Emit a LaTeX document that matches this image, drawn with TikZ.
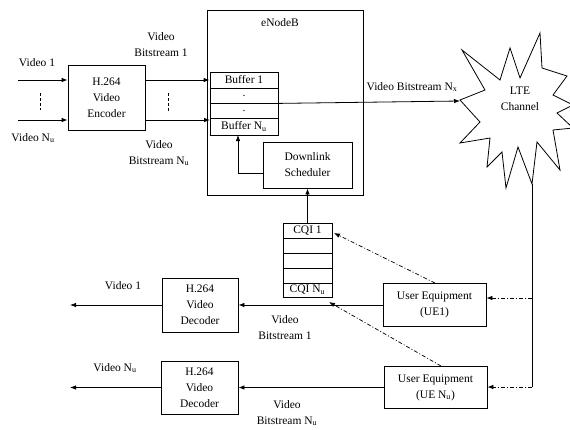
\documentclass[tikz,border=0pt]{standalone}
\usepackage{fontspec}
\setmainfont{Liberation Serif}
\usetikzlibrary{arrows.meta}
\begin{document}
\begin{tikzpicture}[x=1pt,y=-1pt,
  font=\fontsize{11.5}{16}\selectfont,
  box/.style={draw, line width=0.8pt, inner sep=0pt, align=center},
  arr/.style={-{Latex[length=6pt,width=4.5pt]}, line width=0.8pt},
  plain/.style={line width=0.8pt},
  dd/.style={dash pattern=on 4pt off 2pt on 1pt off 2pt, line width=0.7pt},
  dots/.style={dash pattern=on 3pt off 2pt, line width=0.7pt},
  lbl/.style={inner sep=0pt, align=center}]
\useasboundingbox (0,0) rectangle (570,429);

% ---------- encoder side ----------
\node[box, minimum width=77pt, minimum height=65pt] (enc) at (106.5,97.5) {H.264\\Video\\Encoder};
\coordinate (vin1) at (18,80);
\coordinate (vinN) at (18,120);
\draw[arr] (vin1) -- (enc.west |- vin1);
\draw[arr] (vinN) -- (enc.west |- vinN);
\node[lbl] (lv1) at (37,63) {Video 1};
\node[lbl] (lvN) at (33,138) {Video N\textsubscript{u}};
\coordinate (d1a) at (40,93); \coordinate (d1b) at (40,110);
\draw[dots] (d1a) -- (d1b);

% ---------- eNodeB ----------
\node[box, minimum width=156pt, minimum height=185pt] (enb) at (285,102.5) {};
\node[lbl] (enbl) at (280,23) {eNodeB};
\node[box, minimum width=68pt, minimum height=16pt] (buf1) at (244,80) {Buffer 1};
\node[box, minimum width=68pt, minimum height=15pt] (buf2) at (244,95.5) {.};
\node[box, minimum width=68pt, minimum height=15pt] (buf3) at (244,110.5) {.};
\node[box, minimum width=68pt, minimum height=17pt] (bufN) at (244,126.5) {Buffer N\textsubscript{u}};
\node[box, minimum width=89pt, minimum height=46pt] (sched) at (307.5,165) {Downlink\\Scheduler};

\coordinate (binN) at (210,120);
\draw[arr] (enc.east |- buf1.west) -- (buf1.west);
\draw[arr] (enc.east |- binN) -- (binN);
\node[lbl] (lb1) at (161,45) {Video\\Bitstream 1};
\node[lbl] (lbN) at (159,153) {Video\\Bitstream N\textsubscript{u}};
\coordinate (d2a) at (168,93); \coordinate (d2b) at (168,111);
\draw[dots] (d2a) -- (d2b);

\coordinate (s1) at (263,173);
\coordinate (s2) at (238,135);
\draw[arr] (s1) -| (s2);

% ---------- LTE channel ----------
\draw[line width=0.8pt, fill=white] (460,100) -- (485,90) -- (462,50) -- (500,80) -- (510,48)
  -- (520,78) -- (540,33) -- (542,68) -- (567,76) -- (553,95) -- (573,105) -- (557,113)
  -- (573,128) -- (553,130) -- (560,170) -- (537,142) -- (532,184) -- (518,147)
  -- (506,188) -- (502,152) -- (487,167) -- (490,138) -- (460,143) -- (480,122) -- cycle;
\node[lbl] (lte) at (520,99) {LTE\\Channel};
\coordinate (ltein) at (460,101);
\draw[arr] (buf2.south east) -- (ltein);
\node[lbl] (lnx) at (412,87) {Video Bitstream N\textsubscript{x}};

% ---------- CQI ----------
\node[box, minimum width=49pt, minimum height=15pt] (cqi1) at (307.5,230.5) {CQI 1};
\node[box, minimum width=49pt, minimum height=15pt] (cqi2) at (307.5,245.5) {};
\node[box, minimum width=49pt, minimum height=15pt] (cqi3) at (307.5,260.5) {};
\node[box, minimum width=49pt, minimum height=15pt] (cqi4) at (307.5,275.5) {};
\node[box, minimum width=49pt, minimum height=14pt] (cqiN) at (307.5,290) {CQI N\textsubscript{u}};
\draw[arr] (cqi1.north) -- (sched.south);

% ---------- user equipment ----------
\node[box, minimum width=103pt, minimum height=43pt] (ue1) at (434.5,304.5) {User Equipment\\(UE1)};
\node[box, minimum width=103pt, minimum height=42pt] (ueN) at (435.5,387.5) {User Equipment\\(UE N\textsubscript{u})};

\coordinate (lteb) at (532,184);
\coordinate (ltec) at (532,298);
\coordinate (lted) at (532,387);
\draw[plain] (lteb) -- (lted);
\draw[dd, arr, line width=0.7pt] (ltec) -- (ue1.east |- ltec);
\draw[dd, arr, line width=0.7pt] (lted) -- (ueN.east |- lted);

\coordinate (u1t) at (435,283);
\coordinate (c1r) at (334,233);
\draw[dd, arr, line width=0.7pt] (u1t) -- (c1r);
\coordinate (uNt) at (441,366);
\coordinate (cNr) at (329,302);
\draw[dd, arr, line width=0.7pt] (uNt) -- (cNr);

% ---------- decoders ----------
\node[box, minimum width=76pt, minimum height=54pt] (dec1) at (200,305) {H.264\\Video\\Decoder};
\node[box, minimum width=77pt, minimum height=53pt] (decN) at (199.5,387.5) {H.264\\Video\\Decoder};
\draw[arr] (ue1.west |- dec1.east) -- (dec1.east);
\draw[arr] (ueN.west |- decN.east) -- (decN.east);
\coordinate (o1) at (70,305);
\coordinate (oN) at (70,387.5);
\draw[arr] (dec1.west) -- (o1);
\draw[arr] (decN.west) -- (oN);
\node[lbl] (lo1) at (123,286) {Video 1};
\node[lbl] (loN) at (115,368) {Video N\textsubscript{u}};
\node[lbl] (lbo1) at (285,328) {Video\\Bitstream 1};
\node[lbl] (lboN) at (287,413) {Video\\Bitstream N\textsubscript{u}};
\end{tikzpicture}
\end{document}
